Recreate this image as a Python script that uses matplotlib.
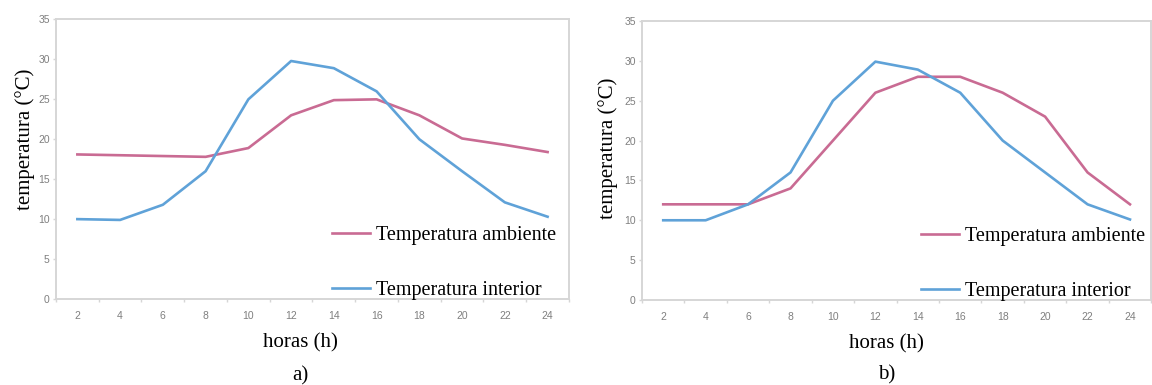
"""
Temperature over the day, two cases a) and b): ambient vs interior.
"""

import matplotlib.pyplot as plt
import numpy as np


# ------------------------------------------------------------------------

HOURS = ['2', '4', '6', '8', '10', '12', '14', '16', '18', '20', '22', '24']

AMBIENT_A = [18.1, 18.0, 17.9, 17.8, 18.9, 23.0, 24.9, 25.0, 23.0, 20.1, 19.3, 18.4]
INTERIOR_A = [10.0, 9.9, 11.8, 16.0, 25.0, 29.8, 28.9, 26.0, 20.0, 16.0, 12.1, 10.3]

AMBIENT_B = [12.0, 12.0, 12.0, 14.0, 20.0, 26.0, 28.0, 28.0, 26.0, 23.0, 16.0, 12.0]
INTERIOR_B = [10.0, 10.0, 12.0, 16.0, 25.0, 29.9, 28.9, 26.0, 20.0, 16.0, 12.0, 10.1]

Y_TICKS = [0, 5, 10, 15, 20, 25, 30, 35]

PINK = '#C96B93'
BLUE = '#5FA2D8'
SPINE = '#D6D6D6'
TICK_TEXT = '#7F7F7F'
SERIF = 'Liberation Serif'


def draw_panel(ax, ambient, interior, tag, tag_y, legend_x, xlabel_x, ylabel_pos):
    """One panel: two lines on a category axis, Excel-like frame."""
    x = np.arange(len(HOURS))
    ax.plot(x, ambient, color=PINK, lw=1.9, label='Temperatura ambiente')
    ax.plot(x, interior, color=BLUE, lw=1.9, label='Temperatura interior')

    ax.set_xlim(-0.5, len(HOURS) - 0.5)
    ax.set_ylim(0, 35)
    ax.set_xticks(x)
    ax.set_xticklabels(HOURS)
    ax.set_xticks(np.arange(-0.5, len(HOURS)), minor=True)
    ax.set_yticks(Y_TICKS)

    ax.tick_params(axis='x', which='major', length=0, pad=9,
                   labelsize=7.5, labelcolor=TICK_TEXT)
    ax.tick_params(axis='x', which='minor', length=2.5, color=SPINE, width=1)
    ax.tick_params(axis='y', length=2.5, color=SPINE, width=1, pad=2,
                   labelsize=7.5, labelcolor=TICK_TEXT)
    for lab in ax.get_xticklabels() + ax.get_yticklabels():
        lab.set_family('Liberation Sans')

    for side in ax.spines.values():
        side.set_color(SPINE)
        side.set_linewidth(1.4)

    ax.set_xlabel('horas (h)', family=SERIF, fontsize=15, va='center')
    ax.xaxis.set_label_coords(xlabel_x, -0.157)
    ax.set_ylabel('temperatura (°C)', family=SERIF, fontsize=15, va='center')
    ax.yaxis.set_label_coords(*ylabel_pos)

    ax.text(xlabel_x, tag_y, tag, transform=ax.transAxes, family=SERIF,
            fontsize=15, ha='center', va='center')

    ax.legend(loc='upper left', bbox_to_anchor=(legend_x, 0.262), frameon=False,
              prop={'family': SERIF, 'size': 14.5}, handlelength=1.9,
              handletextpad=0.3, labelspacing=1.8, borderpad=0,
              borderaxespad=0)


def main():
    fig = plt.figure(figsize=(11.52, 3.85), dpi=100)
    ax_a = fig.add_axes([0.0486, 0.2234, 0.4453, 0.726])
    ax_b = fig.add_axes([0.5573, 0.2208, 0.4420, 0.7247])

    draw_panel(ax_a, AMBIENT_A, INTERIOR_A, 'a)', -0.275, 0.538, 0.476, (-0.060, 0.572))
    draw_panel(ax_b, AMBIENT_B, INTERIOR_B, 'b)', -0.268, 0.547, 0.48, (-0.067, 0.545))

    fig.savefig('out.png', dpi=100)


# ------------------------------------------------------------------------

if __name__ == "__main__":
    main()
